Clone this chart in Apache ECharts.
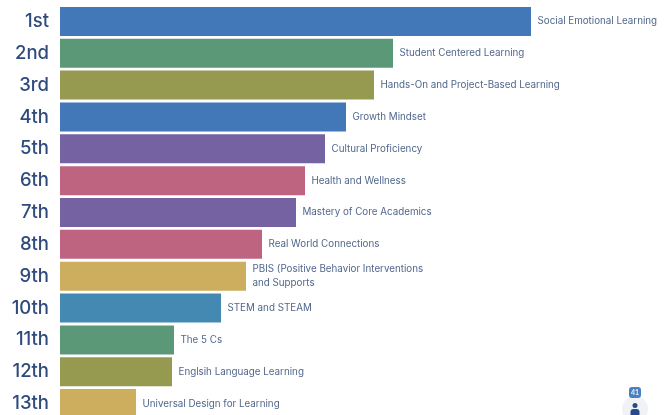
<!DOCTYPE html>
<html><head><meta charset="utf-8">
<style>html,body{margin:0;padding:0;background:#fff}#c{width:669px;height:415px}</style>
<script src="https://cdn.jsdelivr.net/npm/echarts@6/dist/echarts.min.js"></script>
</head><body><div id="c"></div>
<script>
const ranks = ['1st','2nd','3rd','4th','5th','6th','7th','8th','9th','10th','11th','12th','13th'];
const topics = ['Social Emotional Learning','Student Centered Learning','Hands-On and Project-Based Learning','Growth Mindset','Cultural Proficiency','Health and Wellness','Mastery of Core Academics','Real World Connections','PBIS (Positive Behavior Interventions\nand Supports','STEM and STEAM','The 5 Cs','Englsih Language Learning','Universal Design for Learning'];
const values = [471,333,314,286,265,245,236,202,186,161,114,112,76];
const barColors = ['#4277b8','#5b9878','#959a50','#4277b8','#7562a3','#bf6480','#7562a3','#bf6480','#ccae5e','#4389b2','#5b9878','#959a50','#ccae5e'];
const chart = echarts.init(document.getElementById('c'), null, {renderer:'canvas'});
chart.setOption({
  animation:false,
  backgroundColor:'#fff',
  grid:{left:60,top:5.5,width:600,height:414,containLabel:false,outerBoundsMode:'none'},
  xAxis:{type:'value',min:0,max:600,show:false},
  yAxis:{type:'category',inverse:true,data:ranks,
    axisLine:{show:false},axisTick:{show:false},
    axisLabel:{color:'#2f4b7e',fontFamily:'Inter',fontSize:18.5,fontWeight:500,margin:11,padding:[2,0,0,0]}},
  series:[{type:'bar',barWidth:29,
    data:values.map((v,i)=>({value:v,itemStyle:{color:barColors[i]}})),
    label:{show:true,position:'right',distance:6.5,color:'#51668c',fontFamily:'Inter',fontSize:9.8,lineHeight:13.5,
      formatter:p=>topics[p.dataIndex]}}],
  graphic:[
    {type:'circle',shape:{cx:635,cy:409,r:13},style:{fill:'#f1f2f6'},silent:true},
    {type:'rect',shape:{x:629,y:387,width:12,height:11,r:3},style:{fill:'#4a7fc0'},silent:true},
    {type:'text',x:635,y:392.5,style:{text:'41',fill:'#e6eefa',font:'bold 7px Lato',textAlign:'center',textVerticalAlign:'middle'},silent:true},
    {type:'circle',shape:{cx:635,cy:405.5,r:2.5},style:{fill:'#274a8c'},silent:true},
    {type:'rect',shape:{x:630.5,y:409,width:9,height:6,r:[3,3,0,0]},style:{fill:'#274a8c'},silent:true}
  ]
});
</script></body></html>
